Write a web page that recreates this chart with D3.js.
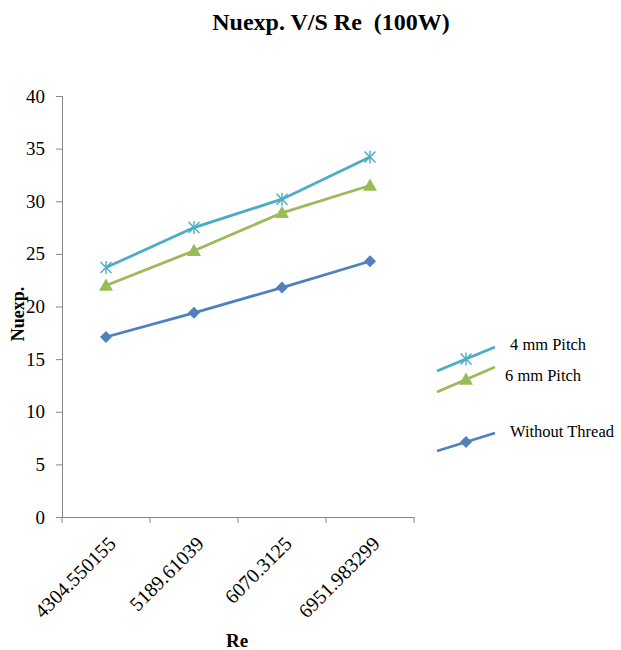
<!DOCTYPE html>
<html><head><meta charset="utf-8">
<script src="https://cdn.jsdelivr.net/npm/d3@7"></script>
<style>body{margin:0;background:#fff}svg{display:block;font-family:"Liberation Serif","Times New Roman",serif}</style>
</head><body><svg id="c" width="621" height="650"></svg>
<script>
const categories = ["4304.550155","5189.61039","6070.3125","6951.983299"];
const pitch4 = [23.7, 27.5, 30.2, 34.2];
const pitch6 = [22.0, 25.3, 28.9, 31.5];
const withoutThread = [17.1, 19.4, 21.8, 24.3];
const yTicks = [0,5,10,15,20,25,30,35,40];
const seriesNames = ["4 mm Pitch","6 mm Pitch","Without Thread"];

(function(){
const series = [
  {name: seriesNames[0], values: pitch4, color: "#4bacc6", marker: "star"},
  {name: seriesNames[1], values: pitch6, color: "#9bbb59", marker: "triangle"},
  {name: seriesNames[2], values: withoutThread, color: "#4f81bd", marker: "diamond"}
];

const svg = d3.select("#c");
const pl = 62, pr = 414, pt = 96, pb = 517;
const x = d3.scaleBand().domain(categories).range([pl, pr]);
const y = d3.scaleLinear().domain([0, 40]).range([pb, pt]);
const axisColor = "#868686";
const serif = "'Liberation Serif', serif";

// title
svg.append("text").attr("x", 331).attr("y", 30).attr("text-anchor", "middle")
  .style("white-space", "pre").attr("xml:space", "preserve")
  .attr("font-size", 24).attr("font-weight", "bold").text("Nuexp. V/S Re  (100W)");

// y axis
const ya = svg.append("g").attr("transform", `translate(${pl},0)`)
  .call(d3.axisLeft(y).tickValues(yTicks).tickSize(6).tickPadding(11));
ya.selectAll("path,line").attr("stroke", axisColor);
ya.selectAll("text").attr("font-size", 19).attr("fill", "#000").attr("font-family", serif);

// x axis
const xa = svg.append("g").attr("transform", `translate(0,${pb})`)
  .call(d3.axisBottom(x).tickSize(0).tickFormat(""));
xa.select("path").attr("stroke", axisColor);
const bounds = categories.map(c => x(c)).concat([pr]);
xa.selectAll(".bt").data(bounds).enter().append("line")
  .attr("x1", d => d).attr("x2", d => d).attr("y1", 0).attr("y2", 6).attr("stroke", axisColor);
xa.selectAll(".lbl").data(categories).enter().append("text")
  .attr("transform", d => `translate(${x(d) + x.bandwidth()/2 + 11},${28}) rotate(-45)`)
  .attr("text-anchor", "end").attr("font-size", 20).attr("fill", "#000")
  .attr("font-family", serif).text(d => d);

// axis labels
svg.append("text").attr("x", 237).attr("y", 647).attr("text-anchor", "middle")
  .attr("font-size", 19).attr("font-weight", "bold").text("Re");
svg.append("text").attr("transform", "translate(24,314) rotate(-90)").attr("text-anchor", "middle")
  .attr("font-size", 18).attr("font-weight", "bold").text("Nuexp.");

function drawMarker(g, type, cx, cy, color) {
  if (type === "diamond") {
    const r = 6;
    g.append("path").attr("d", `M0,${-r}L${r},0L0,${r}L${-r},0Z`).attr("transform", `translate(${cx},${cy})`).attr("fill", color);
  } else if (type === "triangle") {
    const r = 7;
    g.append("path").attr("d", `M0,${-r}L${r},${r*0.75}L${-r},${r*0.75}Z`).attr("transform", `translate(${cx},${cy})`).attr("fill", color);
  } else {
    const r = 5.5;
    const p = g.append("g").attr("transform", `translate(${cx},${cy})`).attr("stroke", color).attr("stroke-width", 1.4);
    p.append("line").attr("x1", -r).attr("x2", r).attr("y1", -r).attr("y2", r);
    p.append("line").attr("x1", -r).attr("x2", r).attr("y1", r).attr("y2", -r);
    p.append("line").attr("x1", 0).attr("x2", 0).attr("y1", -r-1).attr("y2", r+1);
  }
}

const line = d3.line().x((d, i) => x(categories[i]) + x.bandwidth()/2).y(d => y(d));
series.forEach(s => {
  const g = svg.append("g");
  g.append("path").datum(s.values).attr("d", line).attr("fill", "none")
    .attr("stroke", s.color).attr("stroke-width", 2.8);
  s.values.forEach((v, i) => drawMarker(g, s.marker, x(categories[i]) + x.bandwidth()/2, y(v), s.color));
});

// legend
const legendPos = [
  {x1: 437, y1: 371, x2: 495, y2: 347, tx: 510, ty: 350},
  {x1: 437, y1: 392, x2: 495, y2: 367, tx: 505, ty: 381},
  {x1: 437, y1: 451, x2: 495, y2: 433, tx: 510, ty: 437}
];
series.forEach((s, i) => {
  const p = legendPos[i];
  const g = svg.append("g");
  g.append("line").attr("x1", p.x1).attr("y1", p.y1).attr("x2", p.x2).attr("y2", p.y2)
    .attr("stroke", s.color).attr("stroke-width", 2.8);
  drawMarker(g, s.marker, (p.x1 + p.x2)/2, (p.y1 + p.y2)/2, s.color);
  g.append("text").attr("x", p.tx).attr("y", p.ty).attr("font-size", 16.5).text(s.name);
});
})();
</script></body></html>
